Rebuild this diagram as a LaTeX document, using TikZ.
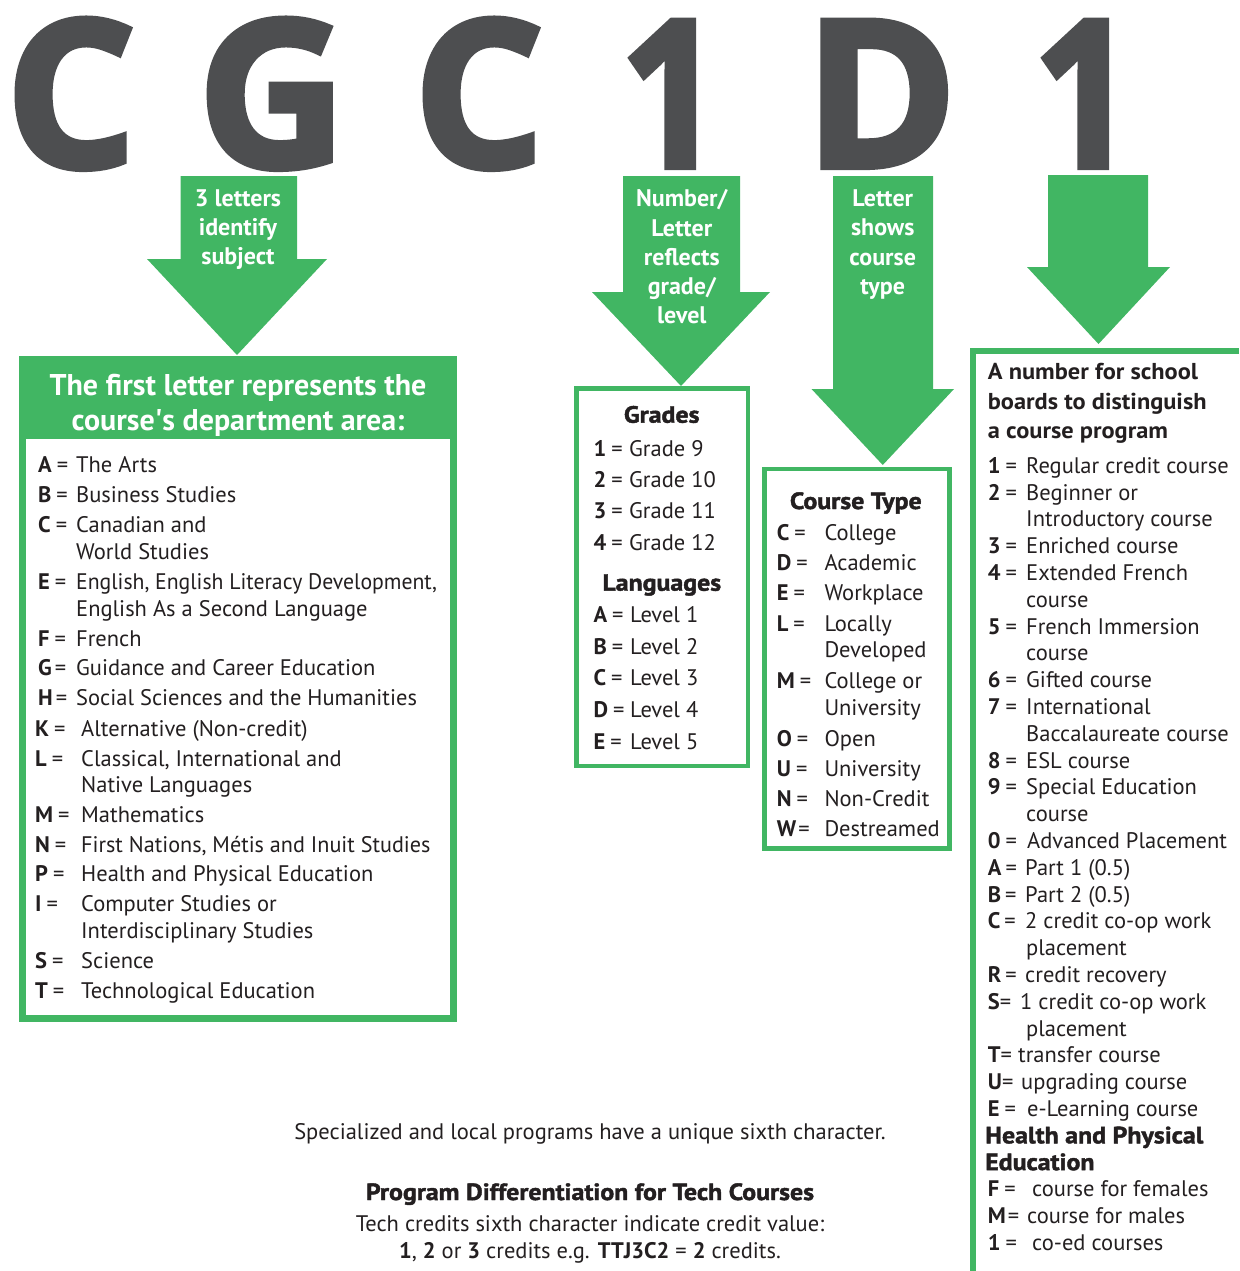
\documentclass[tikz,border=0pt]{standalone}
\usepackage{fontspec}
\setmainfont{PT Sans}
\newfontfamily\bigfont{Open Sans}[BoldFeatures={FakeBold=3}]
\newfontfamily\blackfont{PT Sans}[BoldFeatures={FakeBold=1.8,FakeStretch=1.1}]
\newfontfamily\semifont{PT Sans}[BoldFeatures={FakeStretch=1.06}]
\definecolor{codegreen}{HTML}{41B663}
\definecolor{codegray}{HTML}{4D4E50}
\definecolor{ink}{HTML}{231F20}

\newcommand\bodyfont{\fontsize{22.5}{27}\selectfont}
\newcommand\headfont{\fontsize{23}{27}\selectfont\semifont\bfseries}
\newcommand\heavyfont{\fontsize{23.5}{27}\selectfont\blackfont\bfseries}
\newcommand\arrowfont{\fontsize{24}{28}\selectfont\bfseries}
\newcommand\bannerfont{\fontsize{30}{34}\selectfont\bfseries}
\newcommand\letterfont{\fontsize{205}{205}\selectfont\bigfont\bfseries}

% one key/value line: name, x of key, x of text, baseline, key, text
\newcommand\kv[6]{%
  \node[lbl] (#1k) at (#2,#4) {#5};
  \node[lbl] (#1)  at (#3,#4) {#6};}
% a wrapped continuation line
\newcommand\cont[4]{\node[lbl] (#1) at (#2,#3) {#4};}
% a block arrow: name, shaft left, shaft right, top, head start, head left, head right, tip
\newcommand\blockarrow[8]{%
  \fill[codegreen] (#2,#4) -- (#3,#4) -- (#3,#5) -- (#7,#5)
    -- ({(#6+#7)/2},#8) coordinate (#1tip) -- (#6,#5) -- (#2,#5) -- cycle;}

\begin{document}
\begin{tikzpicture}[x=1pt,y=-1pt,
  lbl/.style={anchor=base west,inner sep=0pt,font=\bodyfont,text=ink},
  ctr/.style={anchor=base,inner sep=0pt,text=ink},
  wht/.style={anchor=base,inner sep=0pt,text=white},
  bigletter/.style={anchor=base,inner sep=0pt,text=codegray,font=\letterfont},
  greenbox/.style={draw=codegreen,fill=white}]
\useasboundingbox (0,0) rectangle (1239,1271);

% course code letters
\node[bigletter] (c1) at (71,167) {C};
\node[bigletter] (c2) at (272,167) {G};
\node[bigletter] (c3) at (479,167) {C};
\node[bigletter] (c4) at (671,167) {\scalebox{0.86}[1]{1}};
\node[bigletter] (c5) at (881,167) {D};
\node[bigletter] (c6) at (1084,167) {\scalebox{0.86}[1]{1}};

% block arrows
\blockarrow{a1}{180.5}{297}{176}{259}{147}{327}{355}
\blockarrow{a2}{623}{740}{176}{292}{592}{770}{386}
\blockarrow{a3}{833}{933}{176}{389}{811.5}{954}{465}
\blockarrow{a4}{1048}{1148}{175}{267}{1027}{1170}{344}

\node[wht,font=\arrowfont] (a1t1) at (238,206) {3 letters};
\node[wht,font=\arrowfont] (a1t2) at (238,235.7) {identify};
\node[wht,font=\arrowfont] (a1t3) at (238,264.3) {subject};

\node[wht,font=\arrowfont] (a2t1) at (681.8,206) {Number/};
\node[wht,font=\arrowfont] (a2t2) at (681.8,236) {Letter};
\node[wht,font=\arrowfont] (a2t3) at (681.8,265) {reflects};
\node[wht,font=\arrowfont] (a2t4) at (681.8,294.3) {grade/};
\node[wht,font=\arrowfont] (a2t5) at (681.8,323.3) {level};

\node[wht,font=\arrowfont] (a3t1) at (882.7,206) {Letter};
\node[wht,font=\arrowfont] (a3t2) at (882.7,235.3) {shows};
\node[wht,font=\arrowfont] (a3t3) at (882.7,265) {course};
\node[wht,font=\arrowfont] (a3t4) at (882.7,294.3) {type};

% subject box
\draw[greenbox,line width=7pt] (22.5,359.5) rectangle (453.5,1018.5);
\fill[codegreen] (19,356) rectangle (457,439);
\node[wht,font=\bannerfont] (b1h1) at (238,395) {The first letter represents the};
\node[wht,font=\bannerfont] (b1h2) at (238,430) {course\textquotesingle s department area:};

\kv{sA}{38}{76}{472.7}{\textbf{A}\hspace{5pt}=}{The Arts}
\kv{sB}{38}{76}{502.7}{\textbf{B}\hspace{5pt}=}{Business Studies}
\kv{sC}{38}{76}{532.7}{\textbf{C}\hspace{5pt}=}{Canadian and}
\cont{sC2}{76}{559.3}{World Studies}
\kv{sE}{38}{76}{589}{\textbf{E}\hspace{5pt}=}{\scalebox{0.965}[1]{English, English Literacy Development,}}
\cont{sE2}{76}{616.7}{English As a Second Language}
\kv{sF}{38}{76}{646}{\textbf{F}\hspace{5pt}=}{French}
\kv{sG}{38}{76}{675}{\textbf{G}\hspace{3pt}=}{Guidance and Career Education}
\kv{sH}{38}{76}{705}{\textbf{H}\hspace{3pt}=}{Social Sciences and the Humanities}
\kv{sK}{35}{81}{736}{\textbf{K}\hspace{5pt}=}{Alternative (Non-credit)}
\kv{sL}{35}{81}{766}{\textbf{L}\hspace{5pt}=}{Classical, International and}
\cont{sL2}{81}{792.7}{Native Languages}
\kv{sM}{35}{81}{822.7}{\textbf{M}\hspace{5pt}=}{Mathematics}
\kv{sN}{35}{81}{852.7}{\textbf{N}\hspace{5pt}=}{\scalebox{0.985}[1]{First Nations, Métis and Inuit Studies}}
\kv{sP}{35}{81}{881.7}{\textbf{P}\hspace{5pt}=}{Health and Physical Education}
\kv{sI}{35}{81}{911.7}{\textbf{I}\hspace{5pt}=}{Computer Studies or}
\cont{sI2}{81}{938}{Interdisciplinary Studies}
\kv{sS}{35}{81}{968}{\textbf{S}\hspace{5pt}=}{Science}
\kv{sT}{35}{81}{998}{\textbf{T}\hspace{5pt}=}{Technological Education}

% grade / level box
\draw[greenbox,line width=4.5pt] (576.3,388.3) rectangle (747.8,765.8);
\node[ctr,font=\heavyfont] (gh) at (661.7,422.7) {Grades};
\kv{g1}{593.3}{629}{456}{\textbf{1}\hspace{5pt}=}{Grade 9}
\kv{g2}{593.3}{629}{487.3}{\textbf{2}\hspace{5pt}=}{Grade 10}
\kv{g3}{593.3}{629}{518.3}{\textbf{3}\hspace{5pt}=}{Grade 11}
\kv{g4}{593.3}{629}{550.7}{\textbf{4}\hspace{5pt}=}{Grade 12}
\node[ctr,font=\heavyfont] (lh) at (661.8,590.7) {Languages};
\kv{lA}{593.3}{630}{622.7}{\textbf{A}\hspace{5pt}=}{Level 1}
\kv{lB}{593.3}{630}{654}{\textbf{B}\hspace{5pt}=}{Level 2}
\kv{lC}{593.3}{630}{685}{\textbf{C}\hspace{5pt}=}{Level 3}
\kv{lD}{593.3}{630}{717.3}{\textbf{D}\hspace{5pt}=}{Level 4}
\kv{lE}{593.3}{630}{749.3}{\textbf{E}\hspace{5pt}=}{Level 5}

% course type box
\draw[greenbox,line width=4.5pt] (764.5,468.9) rectangle (949.5,848.5);
\node[ctr,font=\heavyfont] (th) at (855.8,509) {Course Type};
\kv{tC}{776.7}{824.3}{540}{\textbf{C}\hspace{5pt}=}{College}
\kv{tD}{776.7}{824.3}{570}{\textbf{D}\hspace{5pt}=}{Academic}
\kv{tE}{776.7}{824.3}{600.7}{\textbf{E}\hspace{5pt}=}{Workplace}
\kv{tL}{776.7}{824.3}{631.7}{\textbf{L}\hspace{5pt}=}{Locally}
\cont{tL2}{824.3}{657.3}{Developed}
\kv{tM}{776.7}{824.3}{688.3}{\textbf{M}\hspace{5pt}=}{College or}
\cont{tM2}{824.3}{715}{University}
\kv{tO}{776.7}{824.3}{746}{\textbf{O}\hspace{5pt}=}{Open}
\kv{tU}{776.7}{824.3}{776}{\textbf{U}\hspace{5pt}=}{University}
\kv{tN}{776.7}{824.3}{806.7}{\textbf{N}\hspace{5pt}=}{Non-Credit}
\kv{tW}{776.7}{824.3}{836}{\textbf{W}\hspace{2pt}=}{Destreamed}

% school board program box (open on the right and at the bottom)
\draw[codegreen,line width=5.5pt] (970,351) -- (1239,351);
\draw[codegreen,line width=6pt] (973,348) -- (973,1271);
\node[lbl,font=\headfont] (ph1) at (987.7,379.3) {A number for school};
\node[lbl,font=\headfont] (ph2) at (987.7,409.3) {boards to distinguish};
\node[lbl,font=\headfont] (ph3) at (987.7,438.3) {a course program};

\kv{p1}{987.7}{1026}{473.3}{\textbf{1}\hspace{5pt}=}{Regular credit course}
\kv{p2}{987.7}{1026}{500.1}{\textbf{2}\hspace{5pt}=}{Beginner or}
\cont{p2b}{1026}{526.9}{Introductory course}
\kv{p3}{987.7}{1026}{553.7}{\textbf{3}\hspace{5pt}=}{Enriched course}
\kv{p4}{987.7}{1026}{580.5}{\textbf{4}\hspace{5pt}=}{Extended French}
\cont{p4b}{1026}{607.3}{course}
\kv{p5}{987.7}{1026}{634.1}{\textbf{5}\hspace{5pt}=}{French Immersion}
\cont{p5b}{1026}{660.9}{course}
\kv{p6}{987.7}{1026}{687.7}{\textbf{6}\hspace{5pt}=}{Gifted course}
\kv{p7}{987.7}{1026}{714.5}{\textbf{7}\hspace{5pt}=}{International}
\cont{p7b}{1026}{741.3}{Baccalaureate course}
\kv{p8}{987.7}{1026}{768.1}{\textbf{8}\hspace{5pt}=}{ESL course}
\kv{p9}{987.7}{1026}{794.9}{\textbf{9}\hspace{5pt}=}{Special Education}
\cont{p9b}{1026}{821.7}{course}
\kv{p0}{987.7}{1027}{848.5}{\textbf{0}\hspace{5pt}=}{Advanced Placement}
\kv{pA}{987.7}{1025}{875.3}{\textbf{A}\hspace{4pt}=}{Part 1 (0.5)}
\kv{pB}{987.7}{1025}{902.1}{\textbf{B}\hspace{4pt}=}{Part 2 (0.5)}
\kv{pC}{987.7}{1025}{928.9}{\textbf{C}\hspace{4pt}=}{2 credit co-op work}
\cont{pC2}{1026}{955.7}{placement}
\kv{pR}{987.7}{1025}{982.5}{\textbf{R}\hspace{4pt}=}{credit recovery}
\kv{pS}{987.7}{1020}{1009.3}{\textbf{S}=}{1 credit co-op work}
\cont{pS2}{1026}{1036.1}{placement}
\kv{pT}{987.7}{1018}{1062.9}{\textbf{T}=}{transfer course}
\kv{pU}{987.7}{1021}{1089.7}{\textbf{U}=}{upgrading course}
\kv{pE}{987.7}{1027}{1116.5}{\textbf{E}\hspace{5pt}=}{e-Learning course}
\node[lbl,font=\heavyfont] (hpe1) at (985,1143.3) {Health and Physical};
\node[lbl,font=\heavyfont] (hpe2) at (985,1170.1) {Education};
\kv{hF}{987.7}{1032}{1196.9}{\textbf{F}\hspace{5pt}=}{course for females}
\kv{hM}{987.7}{1027}{1223.7}{\textbf{M}\hspace{2pt}=}{course for males}
\kv{h1}{987.7}{1032}{1250.5}{\textbf{1}\hspace{5pt}=}{co-ed courses}

% notes about the sixth character
\node[ctr,font=\bodyfont] (n1) at (590,1139) {Specialized and local programs have a unique sixth character.};
\node[ctr,font=\heavyfont] (n2) at (590,1200) {Program Differentiation for Tech Courses};
\node[ctr,font=\bodyfont] (n3) at (590,1231) {Tech credits sixth character indicate credit value:};
\node[ctr,font=\bodyfont] (n4) at (590,1258) {\textbf{1}, \textbf{2} or \textbf{3} credits e.g. \textbf{TTJ3C2} = \textbf{2} credits.};
\end{tikzpicture}
\end{document}
